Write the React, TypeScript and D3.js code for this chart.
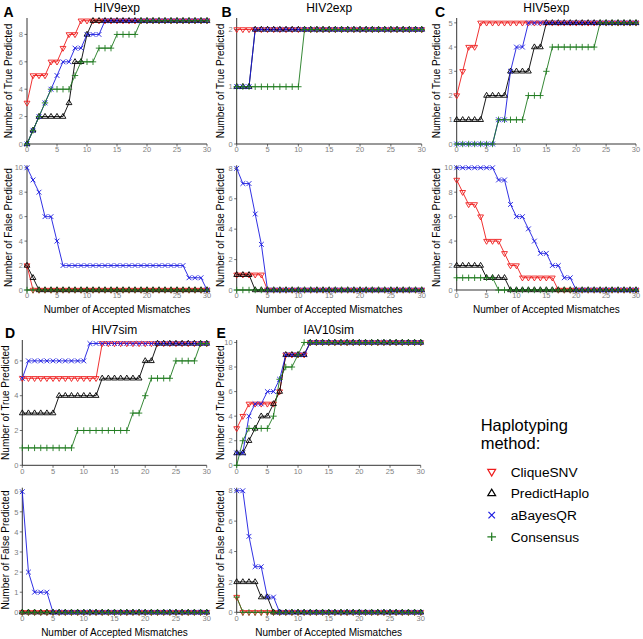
import React from "react";
import * as d3 from "d3";

// ---------- data ----------
const mismatches = [0,1,2,3,4,5,6,7,8,9,10,11,12,13,14,15,16,17,18,19,20,21,22,23,24,25,26,27,28,29,30];
const xTicks = [0,5,10,15,20,25,30];
const methods = ["CliqueSNV","PredictHaplo","aBayesQR","Consensus"];
const methodColors = ["#ee1c1c","#000000","#1a1ae0","#1f7a1f"];

// A: HIV9exp
const hiv9TrueClique    = [3,5,5,5,6,6,7,8,8,9,9,9,9,9,9,9,9,9,9,9,9,9,9,9,9,9,9,9,9,9,9];
const hiv9TruePredict   = [0,1,2,2,2,2,2,3,6,6,8,9,9,9,9,9,9,9,9,9,9,9,9,9,9,9,9,9,9,9,9];
const hiv9TrueBayes     = [0,1,2,3,4,5,6,6,7,7,8,8,8,9,9,9,9,9,9,9,9,9,9,9,9,9,9,9,9,9,9];
const hiv9TrueConsensus = [0,1,2,3,4,4,4,4,5,6,6,6,7,7,7,8,8,8,8,9,9,9,9,9,9,9,9,9,9,9,9];
const hiv9FalseClique    = [2,0,0,0,0,0,0,0,0,0,0,0,0,0,0,0,0,0,0,0,0,0,0,0,0,0,0,0,0,0,0];
const hiv9FalsePredict   = [2,1,0,0,0,0,0,0,0,0,0,0,0,0,0,0,0,0,0,0,0,0,0,0,0,0,0,0,0,0,0];
const hiv9FalseBayes     = [10,9,8,6,6,4,2,2,2,2,2,2,2,2,2,2,2,2,2,2,2,2,2,2,2,2,2,1,1,1,0];
const hiv9FalseConsensus = [0,0,0,0,0,0,0,0,0,0,0,0,0,0,0,0,0,0,0,0,0,0,0,0,0,0,0,0,0,0,0];

// B: HIV2exp
const hiv2TrueClique    = [2,2,2,2,2,2,2,2,2,2,2,2,2,2,2,2,2,2,2,2,2,2,2,2,2,2,2,2,2,2,2];
const hiv2TruePredict   = [1,1,1,2,2,2,2,2,2,2,2,2,2,2,2,2,2,2,2,2,2,2,2,2,2,2,2,2,2,2,2];
const hiv2TrueBayes     = [1,1,1,2,2,2,2,2,2,2,2,2,2,2,2,2,2,2,2,2,2,2,2,2,2,2,2,2,2,2,2];
const hiv2TrueConsensus = [1,1,1,1,1,1,1,1,1,1,1,2,2,2,2,2,2,2,2,2,2,2,2,2,2,2,2,2,2,2,2];
const hiv2FalseClique    = [1,1,1,1,1,0,0,0,0,0,0,0,0,0,0,0,0,0,0,0,0,0,0,0,0,0,0,0,0,0,0];
const hiv2FalsePredict   = [1,1,1,0,0,0,0,0,0,0,0,0,0,0,0,0,0,0,0,0,0,0,0,0,0,0,0,0,0,0,0];
const hiv2FalseBayes     = [8,7,7,5,3,0,0,0,0,0,0,0,0,0,0,0,0,0,0,0,0,0,0,0,0,0,0,0,0,0,0];
const hiv2FalseConsensus = [0,0,0,0,0,0,0,0,0,0,0,0,0,0,0,0,0,0,0,0,0,0,0,0,0,0,0,0,0,0,0];

// C: HIV5exp
const hiv5TrueClique    = [2,3,4,4,5,5,5,5,5,5,5,5,5,5,5,5,5,5,5,5,5,5,5,5,5,5,5,5,5,5,5];
const hiv5TruePredict   = [1,1,1,1,1,2,2,2,2,3,3,3,3,4,4,5,5,5,5,5,5,5,5,5,5,5,5,5,5,5,5];
const hiv5TrueBayes     = [0,0,0,0,0,0,0,1,1,3,4,4,5,5,5,5,5,5,5,5,5,5,5,5,5,5,5,5,5,5,5];
const hiv5TrueConsensus = [0,0,0,0,0,0,0,1,1,1,1,1,2,2,2,3,4,4,4,4,4,4,4,4,5,5,5,5,5,5,5];
const hiv5FalseClique    = [9,8,7,7,6,4,4,4,3,2,2,1,1,1,1,1,1,0,0,0,0,0,0,0,0,0,0,0,0,0,0];
const hiv5FalsePredict   = [2,2,2,2,2,1,1,1,1,0,0,0,0,0,0,0,0,0,0,0,0,0,0,0,0,0,0,0,0,0,0];
const hiv5FalseBayes     = [10,10,10,10,10,10,10,9,9,7,6,6,5,4,3,3,2,2,1,1,0,0,0,0,0,0,0,0,0,0,0];
const hiv5FalseConsensus = [1,1,1,1,1,1,1,0,0,0,0,0,0,0,0,0,0,0,0,0,0,0,0,0,0,0,0,0,0,0,0];

// D: HIV7sim
const hiv7TrueClique    = [5,5,5,5,5,5,5,5,5,5,5,5,5,7,7,7,7,7,7,7,7,7,7,7,7,7,7,7,7,7,7];
const hiv7TruePredict   = [3,3,3,3,3,3,4,4,4,4,4,4,4,5,5,5,5,5,5,5,6,6,7,7,7,7,7,7,7,7,7];
const hiv7TrueBayes     = [5,6,6,6,6,6,6,6,6,6,6,7,7,7,7,7,7,7,7,7,7,7,7,7,7,7,7,7,7,7,7];
const hiv7TrueConsensus = [1,1,1,1,1,1,1,1,1,2,2,2,2,2,2,2,2,2,3,3,4,5,5,5,5,6,6,6,6,7,7];
const hiv7FalseClique    = [0,0,0,0,0,0,0,0,0,0,0,0,0,0,0,0,0,0,0,0,0,0,0,0,0,0,0,0,0,0,0];
const hiv7FalsePredict   = [0,0,0,0,0,0,0,0,0,0,0,0,0,0,0,0,0,0,0,0,0,0,0,0,0,0,0,0,0,0,0];
const hiv7FalseBayes     = [6,2,1,1,1,0,0,0,0,0,0,0,0,0,0,0,0,0,0,0,0,0,0,0,0,0,0,0,0,0,0];
const hiv7FalseConsensus = [0,0,0,0,0,0,0,0,0,0,0,0,0,0,0,0,0,0,0,0,0,0,0,0,0,0,0,0,0,0,0];

// E: IAV10sim
const iav10TrueClique    = [3,4,5,5,5,5,5,6,9,9,9,9,10,10,10,10,10,10,10,10,10,10,10,10,10,10,10,10,10,10,10];
const iav10TruePredict   = [1,1,2,3,4,4,5,6,9,9,9,9,10,10,10,10,10,10,10,10,10,10,10,10,10,10,10,10,10,10,10];
const iav10TrueBayes     = [1,1,4,5,5,6,6,7,9,9,9,9,10,10,10,10,10,10,10,10,10,10,10,10,10,10,10,10,10,10,10];
const iav10TrueConsensus = [0,2,3,3,3,3,4,7,8,8,9,10,10,10,10,10,10,10,10,10,10,10,10,10,10,10,10,10,10,10,10];
const iav10FalseClique    = [1,0,0,0,0,0,0,0,0,0,0,0,0,0,0,0,0,0,0,0,0,0,0,0,0,0,0,0,0,0,0];
const iav10FalsePredict   = [2,2,2,2,1,1,0,0,0,0,0,0,0,0,0,0,0,0,0,0,0,0,0,0,0,0,0,0,0,0,0];
const iav10FalseBayes     = [8,8,5,3,3,1,1,0,0,0,0,0,0,0,0,0,0,0,0,0,0,0,0,0,0,0,0,0,0,0,0];
const iav10FalseConsensus = [1,0,0,0,0,0,0,0,0,0,0,0,0,0,0,0,0,0,0,0,0,0,0,0,0,0,0,0,0,0,0];

const panelTitles = ["HIV9exp","HIV2exp","HIV5exp","HIV7sim","IAV10sim"];
const panelLetters = ["A","B","C","D","E"];
const trueTicks = [[0,2,4,6,8],[0,1,2],[0,1,2,3,4,5],[0,2,4,6],[0,2,4,6,8,10]];
const falseTicks = [[0,2,4,6,8,10],[0,2,4,6,8],[0,2,4,6,8,10],[0,1,2,3,4,5,6],[0,2,4,6,8]];

const trueSeries = [
  [hiv9TrueClique, hiv9TruePredict, hiv9TrueBayes, hiv9TrueConsensus],
  [hiv2TrueClique, hiv2TruePredict, hiv2TrueBayes, hiv2TrueConsensus],
  [hiv5TrueClique, hiv5TruePredict, hiv5TrueBayes, hiv5TrueConsensus],
  [hiv7TrueClique, hiv7TruePredict, hiv7TrueBayes, hiv7TrueConsensus],
  [iav10TrueClique, iav10TruePredict, iav10TrueBayes, iav10TrueConsensus],
];
const falseSeries = [
  [hiv9FalseClique, hiv9FalsePredict, hiv9FalseBayes, hiv9FalseConsensus],
  [hiv2FalseClique, hiv2FalsePredict, hiv2FalseBayes, hiv2FalseConsensus],
  [hiv5FalseClique, hiv5FalsePredict, hiv5FalseBayes, hiv5FalseConsensus],
  [hiv7FalseClique, hiv7FalsePredict, hiv7FalseBayes, hiv7FalseConsensus],
  [iav10FalseClique, iav10FalsePredict, iav10FalseBayes, iav10FalseConsensus],
];

// ---------- layout ----------
const W = 643, H = 639;
const FONT = "Liberation Sans, Arial, Helvetica, sans-serif";
const cols = [
  { x0: 27, x1: 207, yTitleX: 8.3, letterX: 3.5 },
  { x0: 236.7, x1: 421.7, yTitleX: 220.8, letterX: 221.5 },
  { x0: 456.7, x1: 636, yTitleX: 436.5, letterX: 435 },
  { x0: 22.3, x1: 206.7, yTitleX: 5.5, letterX: 5 },
  { x0: 236.7, x1: 420.7, yTitleX: 220, letterX: 216.5 },
];
const rows = [
  { topT: 18, topB: 144, botT: 165.3, botB: 290, titleY: 12.3, letterY: 16.5, xTitleY: 313 },
  { topT: 340, topB: 465.3, botT: 487.7, botB: 612.3, titleY: 334, letterY: 337.5, xTitleY: 636 },
];

function Marker({ k, x, y, color, s = 1 }: { k: number; x: number; y: number; color: string; s?: number }) {
  let d = "";
  if (k === 0) d = `M${-2.9 * s},${-1.7 * s}L${2.9 * s},${-1.7 * s}L0,${3.2 * s}Z`;
  else if (k === 1) d = `M${-2.9 * s},${1.7 * s}L${2.9 * s},${1.7 * s}L0,${-3.2 * s}Z`;
  else if (k === 2) d = `M${-2.4 * s},${-2.4 * s}L${2.4 * s},${2.4 * s}M${-2.4 * s},${2.4 * s}L${2.4 * s},${-2.4 * s}`;
  else d = `M${-3.2 * s},0L${3.2 * s},0M0,${-3.2 * s}L0,${3.2 * s}`;
  return <path d={d} transform={`translate(${x},${y})`} fill="none" stroke={color} strokeWidth={0.9 * s} />;
}

function SubPlot({ col, T, B, series, ticks, yTitle, yTitleX, xTitleY }: any) {
  const x = d3.scaleLinear().domain([0, 30]).range([col.x0, col.x1]);
  const yMax = d3.max(series.flat() as number[]) as number;
  const y = d3.scaleLinear().domain([0, yMax + 0.2]).range([B, T]);
  const line = d3.line<number>().x((_, i) => x(mismatches[i])).y((v) => y(v));
  return (
    <g>
      {/* axes */}
      <line x1={col.x0} x2={col.x0} y1={T} y2={B} stroke="#000" strokeWidth={0.8} />
      <line x1={col.x0} x2={col.x1} y1={B} y2={B} stroke="#000" strokeWidth={0.8} />
      {xTicks.map((t) => (
        <g key={"xt" + t}>
          <line x1={x(t)} x2={x(t)} y1={B} y2={B + 2.5} stroke="#333" strokeWidth={0.7} />
          <text x={x(t)} y={B + 8.2} fontSize={7.5} fill="#7f7f7f" textAnchor="middle" fontFamily={FONT}>{t}</text>
        </g>
      ))}
      {ticks.map((t: number) => (
        <g key={"yt" + t}>
          <line x1={col.x0 - 2.5} x2={col.x0} y1={y(t)} y2={y(t)} stroke="#333" strokeWidth={0.7} />
          <text x={col.x0 - 4} y={y(t) + 2.7} fontSize={7.5} fill="#7f7f7f" textAnchor="end" fontFamily={FONT}>{t}</text>
        </g>
      ))}
      <text transform={`translate(${yTitleX},${(T + B) / 2}) rotate(-90)`} dy="0.35em" fontSize={10} textAnchor="middle" fontFamily={FONT} fill="#000">{yTitle}</text>
      {xTitleY != null && (
        <text x={(col.x0 + col.x1) / 2} y={xTitleY} fontSize={10} textAnchor="middle" fontFamily={FONT} fill="#000">Number of Accepted Mismatches</text>
      )}
      {series.map((s: number[], k: number) => (
        <path key={"l" + k} d={line(s) || ""} fill="none" stroke={methodColors[k]} strokeWidth={0.9} />
      ))}
      {series.map((s: number[], k: number) =>
        s.map((v, i) => <Marker key={`m${k}-${i}`} k={k} x={x(mismatches[i])} y={y(v)} color={methodColors[k]} />)
      )}
    </g>
  );
}

export default function App() {
  return (
    <svg width={W} height={H} style={{ display: "block", position: "absolute", left: 0, top: 0, background: "#fff" }}>
      <rect width={W} height={H} fill="#fff" />
      {panelTitles.map((title, p) => {
        const col = cols[p];
        const row = rows[p < 3 ? 0 : 1];
        return (
          <g key={title}>
            <text x={col.letterX} y={row.letterY} fontSize={14} fontWeight="bold" fontFamily={FONT}>{panelLetters[p]}</text>
            <text x={(col.x0 + col.x1) / 2} y={row.titleY} fontSize={12} textAnchor="middle" fontFamily={FONT}>{title}</text>
            <SubPlot col={col} T={row.topT} B={row.topB} series={trueSeries[p]} ticks={trueTicks[p]} yTitle="Number of True Predicted" yTitleX={col.yTitleX} />
            <SubPlot col={col} T={row.botT} B={row.botB} series={falseSeries[p]} ticks={falseTicks[p]} yTitle="Number of False Predicted" yTitleX={col.yTitleX} xTitleY={row.xTitleY} />
          </g>
        );
      })}
      {/* legend */}
      <g fontFamily={FONT}>
        <text x={480.7} y={430.8} fontSize={16.5}>Haplotyping</text>
        <text x={480.7} y={449} fontSize={16.5}>method:</text>
        {methods.map((m, k) => {
          const cy = 471.7 + k * 21.7;
          return (
            <g key={m}>
              <Marker k={k} x={491.7} y={cy} color={methodColors[k]} s={1.35} />
              <text x={510.7} y={cy + 4.8} fontSize={13.7}>{m}</text>
            </g>
          );
        })}
      </g>
    </svg>
  );
}
